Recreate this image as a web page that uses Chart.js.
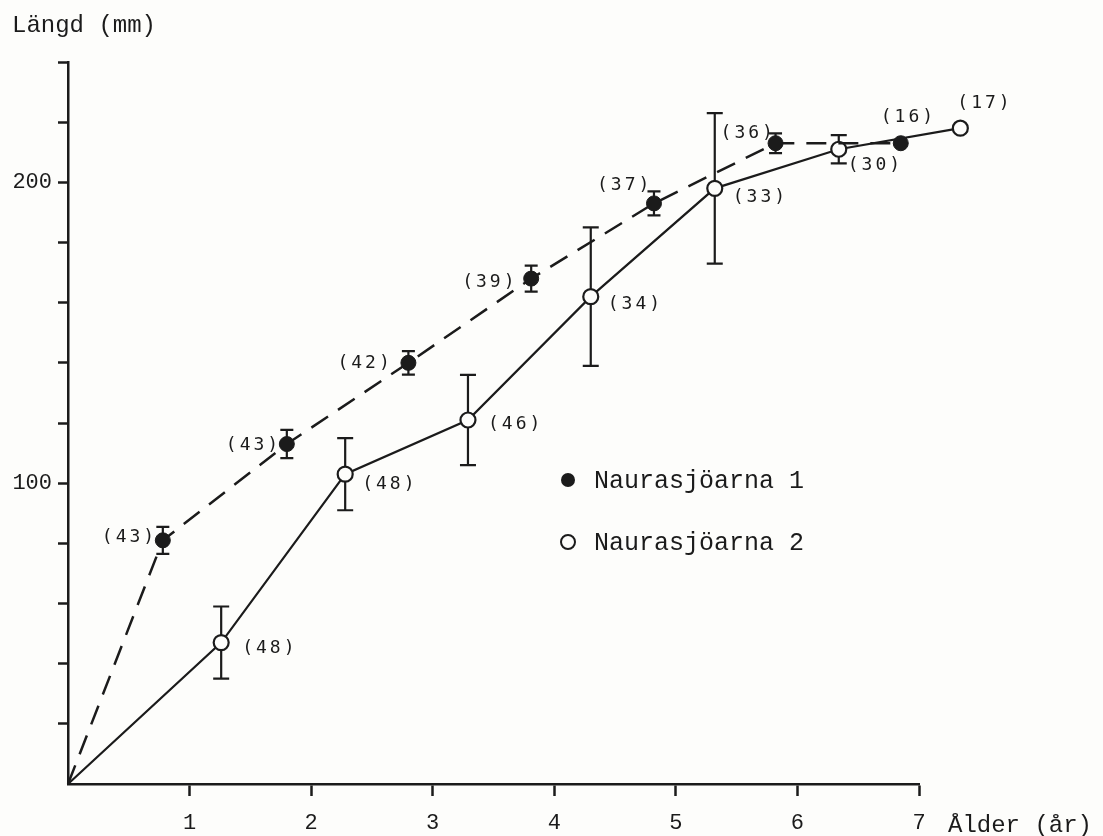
<!DOCTYPE html>
<html lang="sv">
<head>
<meta charset="utf-8">
<title>Längd efter ålder – Naurasjöarna</title>
<script src="https://cdn.jsdelivr.net/npm/chart.js@4.4.1/dist/chart.umd.min.js"></script>
<style>
  html, body { margin: 0; padding: 0; background: #fdfdfb; }
  canvas { display: block; }
</style>
</head>
<body>
<canvas id="chart" width="1103" height="836"></canvas>
<script>
// Medellängd (mm) per ålder (år), standardavvikelse och antal fiskar (n)
const ageN1   = [0, 0.78, 1.8, 2.8, 3.81, 4.82, 5.82, 6.85];
const lenN1   = [0, 81, 113, 140, 168, 193, 213, 213];
const sdN1    = [0, 4.5, 4.7, 3.9, 4.3, 4, 3.3, 0];
const countN1 = [null, 43, 43, 42, 39, 37, 36, 16];

const ageN2   = [0, 1.26, 2.28, 3.29, 4.3, 5.32, 6.34, 7.34];
const lenN2   = [0, 47, 103, 121, 162, 198, 211, 218];
const sdN2    = [0, 12, 12, 15, 23, 25, 4.7, 0];
const countN2 = [null, 48, 48, 46, 34, 33, 30, 17];

const seriesNames = ['Naurasjöarna 1', 'Naurasjöarna 2'];
const xTickLabels = [1, 2, 3, 4, 5, 6, 7];
const yTickLabels = [100, 200];
const yTitle = 'Längd (mm)';
const xTitle = 'Ålder (år)';

// Placering av n-etiketterna: vänsterkant (dx) och mittlinje (dy) i px från punkten
const countOffsets1 = [null, [-61, -3], [-61, 1], [-71, 0], [-69, 4], [-57, -18], [-55, -10], [-20, -26]];
const countOffsets2 = [null, [21, 6], [17, 10], [20, 4], [17, 8], [18, 9], [9, 16], [-3, -25]];

const ink = '#1b1b1b';
const paper = '#fdfdfb';
const monoFont = '"Liberation Mono", "DejaVu Sans Mono", monospace';
const labelFont = '"DejaVu Sans Mono", monospace';

const toPoints = (xs, ys) => xs.map((x, i) => ({ x, y: ys[i] }));
const radius = c => (c.dataIndex === 0 ? 0 : 7.5);

const paperPlugin = {
  id: 'paper',
  beforeDraw(chart) {
    const { ctx, width, height } = chart;
    ctx.save();
    ctx.fillStyle = paper;
    ctx.fillRect(0, 0, width, height);
    ctx.restore();
  }
};

const errorBarPlugin = {
  id: 'errorBars',
  beforeDatasetsDraw(chart) {
    const { ctx, scales: { x, y } } = chart;
    const groups = [[ageN1, lenN1, sdN1, 6.5], [ageN2, lenN2, sdN2, 8]];
    ctx.save();
    ctx.strokeStyle = ink;
    ctx.lineWidth = 2.2;
    groups.forEach(([xs, ys, sds, cap]) => {
      xs.forEach((a, i) => {
        if (!sds[i]) return;
        const px = x.getPixelForValue(a);
        const top = y.getPixelForValue(ys[i] + sds[i]);
        const bot = y.getPixelForValue(ys[i] - sds[i]);
        ctx.beginPath();
        ctx.moveTo(px, top); ctx.lineTo(px, bot);
        ctx.moveTo(px - cap, top); ctx.lineTo(px + cap, top);
        ctx.moveTo(px - cap, bot); ctx.lineTo(px + cap, bot);
        ctx.stroke();
      });
    });
    ctx.restore();
  },
  // punkter bortom x-axelns slut (7 år) ritas också
  afterDatasetsDraw(chart) {
    const area = chart.chartArea;
    const whole = { left: 0, top: 0, right: chart.width, bottom: chart.height };
    chart.getSortedVisibleDatasetMetas().forEach(meta => {
      meta.data.forEach(pt => {
        if (pt.x > area.right + 1 || pt.y < area.top - 1) pt.draw(chart.ctx, whole);
      });
    });
  }
};

const textPlugin = {
  id: 'texts',
  afterDraw(chart) {
    const { ctx, scales: { x, y } } = chart;
    ctx.save();
    ctx.fillStyle = ink;

    // antal (n) vid varje punkt
    ctx.font = '18px ' + labelFont;
    ctx.letterSpacing = '3px';
    ctx.textAlign = 'left';
    ctx.textBaseline = 'middle';
    [[ageN1, lenN1, countN1, countOffsets1], [ageN2, lenN2, countN2, countOffsets2]].forEach(([xs, ys, ns, offs]) => {
      xs.forEach((a, i) => {
        if (ns[i] == null) return;
        const px = x.getPixelForValue(a);
        const py = y.getPixelForValue(ys[i]);
        ctx.fillText('(' + ns[i] + ')', px + offs[i][0], py + offs[i][1]);
      });
    });
    ctx.letterSpacing = '0px';

    // axeltitlar
    ctx.font = '24px ' + monoFont;
    ctx.textBaseline = 'alphabetic';
    ctx.fillText(yTitle, 12, 32);
    ctx.fillText(xTitle, x.right + 29, 832);

    // teckenförklaring
    const lx = chart.chartArea.left + 500;
    const rows = [chart.chartArea.top + 418, chart.chartArea.top + 480];
    ctx.font = '25px ' + monoFont;
    ctx.textBaseline = 'middle';
    rows.forEach((ry, k) => {
      ctx.beginPath();
      ctx.arc(lx, ry, 7, 0, Math.PI * 2);
      if (k === 0) {
        ctx.fillStyle = ink; ctx.fill();
      } else {
        ctx.fillStyle = paper; ctx.fill();
        ctx.lineWidth = 2; ctx.strokeStyle = ink; ctx.stroke();
      }
      ctx.fillStyle = ink;
      ctx.fillText(seriesNames[k], lx + 26, ry + 1);
    });
    ctx.restore();
  }
};

const hideZeroTick = c => (c.tick && c.tick.value === 0 ? 'rgba(0,0,0,0)' : ink);

new Chart(document.getElementById('chart'), {
  type: 'scatter',
  data: {
    datasets: [
      {
        label: seriesNames[0],
        data: toPoints(ageN1, lenN1),
        showLine: true,
        borderColor: ink,
        borderWidth: 2.5,
        borderDash: [20, 12],
        pointRadius: radius,
        pointBackgroundColor: ink,
        pointBorderColor: ink,
        pointBorderWidth: 1,
        clip: false
      },
      {
        label: seriesNames[1],
        data: toPoints(ageN2, lenN2),
        showLine: true,
        borderColor: ink,
        borderWidth: 2.2,
        pointRadius: radius,
        pointBackgroundColor: paper,
        pointBorderColor: ink,
        pointBorderWidth: 2.2,
        clip: false
      }
    ]
  },
  options: {
    responsive: false,
    animation: false,
    devicePixelRatio: 1,
    layout: { padding: { top: 62, right: 184, left: 0, bottom: 0 } },
    plugins: { legend: { display: false }, tooltip: { enabled: false } },
    scales: {
      x: {
        type: 'linear',
        min: 0, max: 7,
        afterFit: s => { s.height = 52; },
        afterBuildTicks: s => { s.ticks = [0, ...xTickLabels].map(v => ({ value: v })); },
        ticks: {
          autoSkip: false, maxRotation: 0,
          padding: 14,
          color: ink,
          font: { family: monoFont, size: 22 },
          callback: v => (xTickLabels.includes(v) ? String(v) : '')
        },
        grid: { drawOnChartArea: false, tickLength: 12, tickWidth: 2.5, tickColor: hideZeroTick },
        border: { color: ink, width: 2.5 }
      },
      y: {
        type: 'linear',
        min: 0, max: 240,
        afterFit: s => { s.width = 68; },
        ticks: {
          stepSize: 20, autoSkip: false,
          padding: 6,
          color: ink,
          font: { family: monoFont, size: 22 },
          callback: v => (yTickLabels.includes(v) ? String(v) : '')
        },
        grid: { drawOnChartArea: false, tickLength: 10, tickWidth: 2.5, tickColor: hideZeroTick },
        border: { color: ink, width: 2.5 }
      }
    }
  },
  plugins: [paperPlugin, errorBarPlugin, textPlugin]
});
</script>
</body>
</html>
